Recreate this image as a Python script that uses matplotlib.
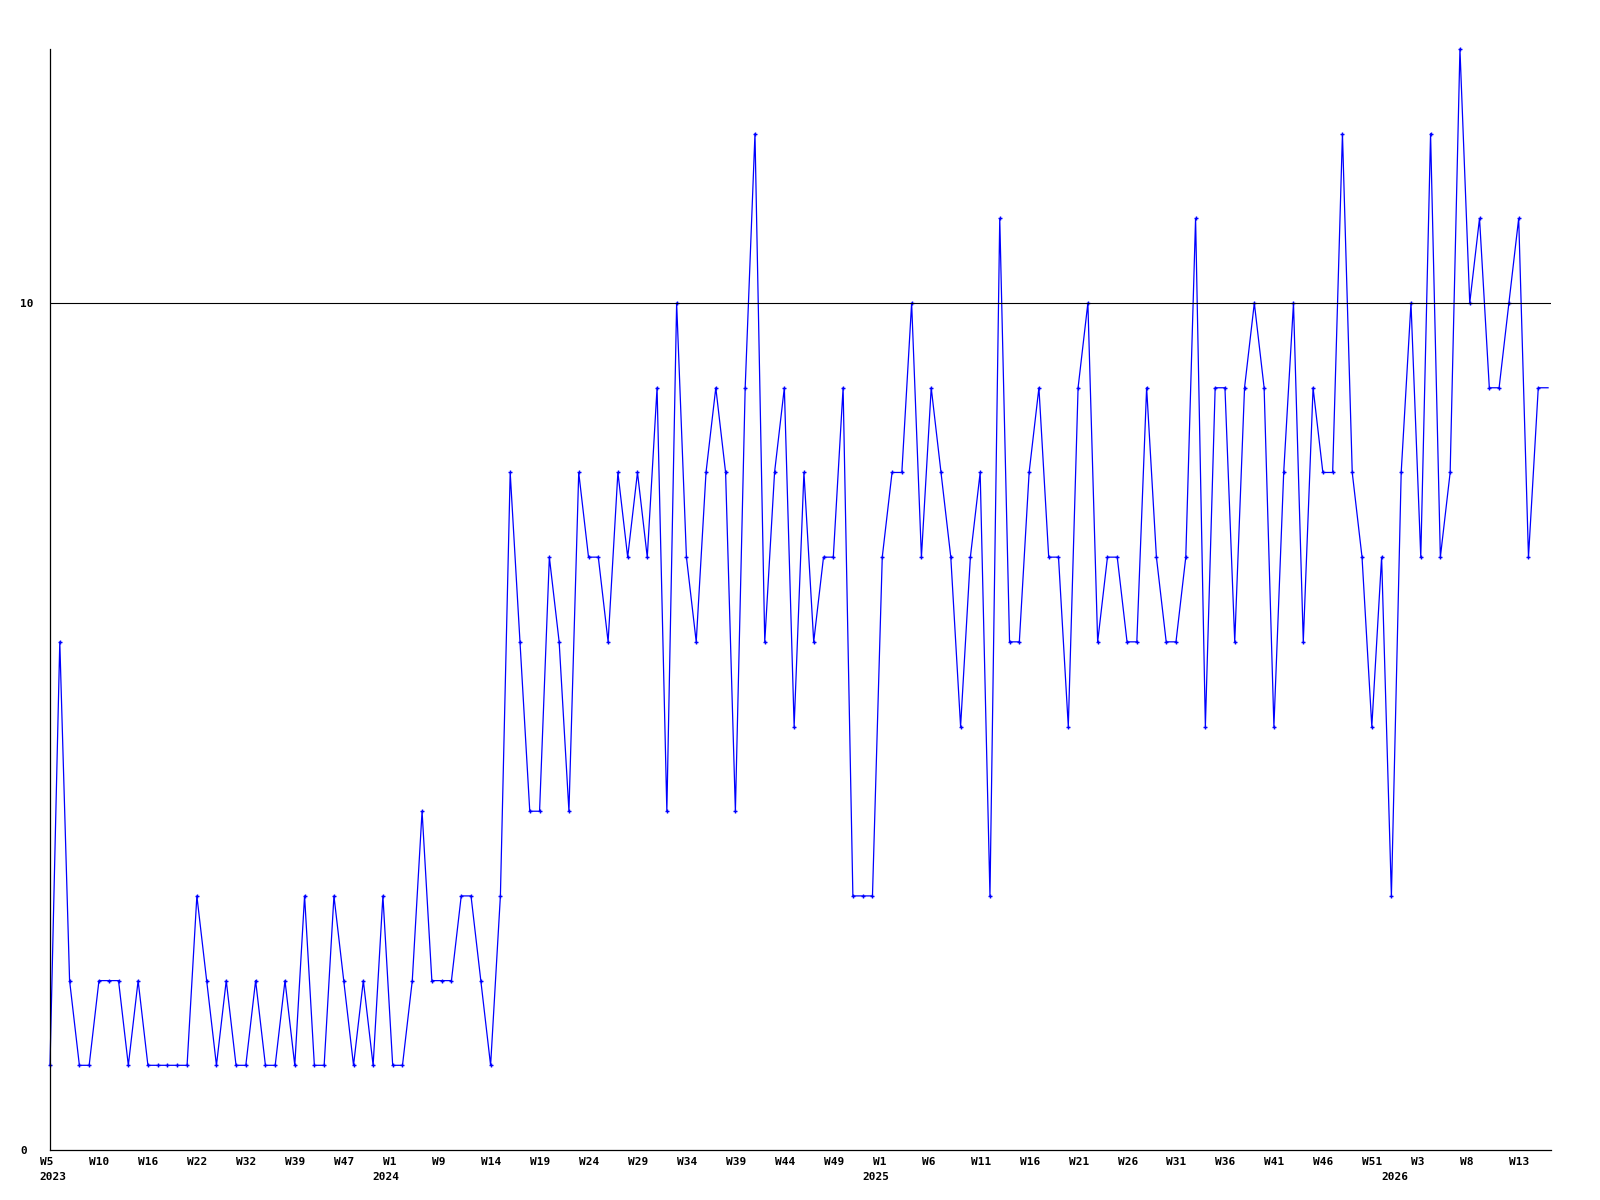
import matplotlib

matplotlib.use('Agg')
import matplotlib.pyplot as plt
import numpy as np

# weekly counts, one per data point (the axis is categorical: weeks without data are skipped)
counts = [
    1, 6, 2, 1, 1, 2, 2, 2, 1, 2, 1, 1, 1, 1, 1, 3, 2, 1, 2, 1,
    1, 2, 1, 1, 2, 1, 3, 1, 1, 3, 2, 1, 2, 1, 3, 1, 1, 2, 4, 2,
    2, 2, 3, 3, 2, 1, 3, 8, 6, 4, 4, 7, 6, 4, 8, 7, 7, 6, 8, 7,
    8, 7, 9, 4, 10, 7, 6, 8, 9, 8, 4, 9, 12, 6, 8, 9, 5, 8, 6, 7,
    7, 9, 3, 3, 3, 7, 8, 8, 10, 7, 9, 8, 7, 5, 7, 8, 3, 11, 6, 6,
    8, 9, 7, 7, 5, 9, 10, 6, 7, 7, 6, 6, 9, 7, 6, 6, 7, 11, 5, 9,
    9, 6, 9, 10, 9, 5, 8, 10, 6, 9, 8, 8, 12, 8, 7, 5, 7, 3, 8, 10,
    7, 12, 7, 8, 13, 10, 11, 9, 9, 10, 11, 7, 9, 9,
]

# a label every 5th point
week_labels = [
    'W5', 'W10', 'W16', 'W22', 'W32', 'W39', 'W47', 'W1', 'W9', 'W14',
    'W19', 'W24', 'W29', 'W34', 'W39', 'W44', 'W49', 'W1', 'W6', 'W11',
    'W16', 'W21', 'W26', 'W31', 'W36', 'W41', 'W46', 'W51', 'W3', 'W8',
    'W13',
]
years = ['2023', '2024', '2025', '2026']
year_pos = [0, 35, 85, 138]

font = dict(family='DejaVu Sans Mono', weight='bold', size=8)

fig = plt.figure(figsize=(16, 12), dpi=100)
ax = fig.add_axes([50 / 1600, 50 / 1200, 1501 / 1600, 1101 / 1200])

x = np.arange(len(counts))
ax.plot(
    x, counts, color='#0000ff', lw=0.9, marker='+', ms=3, mew=1.0,
    markevery=slice(0, len(counts) - 1), clip_on=False,
)
ax.axhline(10, color='black', lw=0.8)

ax.set_xlim(0, 153.3)
ax.set_ylim(0, 13)

for s in ['top', 'right']:
    ax.spines[s].set_visible(False)
for s in ['left', 'bottom']:
    ax.spines[s].set_linewidth(0.9)
    ax.spines[s].set_color('black')

ax.set_xticks([])
ax.set_yticks([0, 10])
ax.set_yticklabels(['0', '10'], fontdict=font)
ax.tick_params(axis='y', length=0, pad=21.6)
for lbl in ax.get_yticklabels():
    lbl.set_ha('left')

# week labels under the axis
for k, lab in enumerate(week_labels):
    ax.annotate(
        lab, xy=(k * 5, 0), xycoords=('data', 'axes fraction'),
        xytext=(-9.5, -15), textcoords='offset pixels',
        ha='left', va='baseline', annotation_clip=False, **font
    )

# year labels
for k, (yr, pos) in enumerate(zip(years, year_pos)):
    dx = -10.5 if k == 0 else -20
    ax.annotate(
        yr, xy=(pos, 0), xycoords=('data', 'axes fraction'),
        xytext=(dx, -30.5), textcoords='offset pixels',
        ha='left', va='baseline', annotation_clip=False, **font
    )

fig.savefig('out.png', dpi=100, facecolor='w')
plt.close(fig)
